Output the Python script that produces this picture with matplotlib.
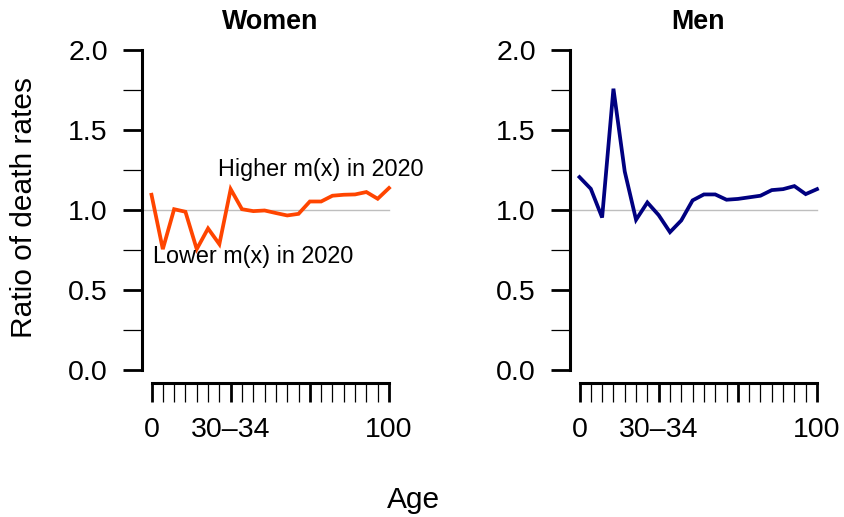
import matplotlib
matplotlib.use("Agg")
import matplotlib.pyplot as plt
import numpy as np

plt.rcParams['font.family'] = ['Liberation Sans', 'DejaVu Sans']

age_groups = ["0", "1–4", "5–9", "10–14", "15–19", "20–24", "25–29", "30–34",
              "35–39", "40–44", "45–49", "50–54", "55–59", "60–64", "65–69",
              "70–74", "75–79", "80–84", "85–89", "90–94", "95–99", "100"]
women_ratio = [1.095, 0.756, 1.005, 0.989, 0.756, 0.885, 0.787, 1.130,
               1.005, 0.993, 0.997, 0.981, 0.966, 0.976, 1.053, 1.053,
               1.089, 1.095, 1.097, 1.112, 1.070, 1.137]
men_ratio = [1.205, 1.132, 0.953, 1.756, 1.240, 0.939, 1.047, 0.968,
             0.862, 0.935, 1.060, 1.097, 1.097, 1.064, 1.069, 1.079,
             1.089, 1.124, 1.130, 1.149, 1.099, 1.130]
labelled_ticks = [0, 7, 21]
major_x = [0, 7, 14, 21]
y_major = [0.0, 0.5, 1.0, 1.5, 2.0]
y_minor = [0.25, 0.75, 1.25, 1.75]

W, H = 844, 517
fig = plt.figure(figsize=(W / 100, H / 100), dpi=100)

def fx(px):
    return px / W

def fy(py):
    return 1 - py / H

panels = [("Women", women_ratio, "#FF4500", 142),
          ("Men", men_ratio, "#000080", 570)]

n = len(age_groups)
for title, vals, col, left_px in panels:
    right_px = left_px + 256.5
    top_px, bot_px = 36.7, 383.3
    ax = fig.add_axes([fx(left_px), fy(bot_px), (right_px - left_px) / W,
                       (bot_px - top_px) / H])
    xs = np.arange(n)
    ax.set_xlim(-0.04 * (n - 1), (n - 1) * 1.04)
    ax.set_ylim(-0.08, 2.08)
    ax.plot([-0.04 * (n - 1), n - 1], [1, 1], color="#BEBEBE", lw=1.0, zorder=1)
    ax.plot(xs, vals, color=col, lw=2.7, zorder=2, solid_joinstyle='miter')
    for s in ["top", "right"]:
        ax.spines[s].set_visible(False)
    ax.spines["left"].set_bounds(0, 2)
    ax.spines["bottom"].set_bounds(0, n - 1)
    ax.spines["left"].set_linewidth(2.2)
    ax.spines["bottom"].set_linewidth(2.2)
    ax.spines["left"].set_capstyle('projecting')
    ax.spines["bottom"].set_capstyle('projecting')
    ax.set_yticks(y_major)
    ax.set_yticklabels([f"{v:.1f}" for v in y_major])
    ax.set_yticks(y_minor, minor=True)
    ax.set_xticks(major_x)
    ax.set_xticklabels(["" if i not in labelled_ticks else age_groups[i] for i in major_x])
    ax.set_xticks([i for i in xs if i not in major_x], minor=True)
    ax.tick_params(axis='both', which='major', length=13.5, width=2.0,
                   labelsize=20.5, pad=11, color='black')
    ax.tick_params(axis='both', which='minor', length=13.5, width=0.9,
                   color='black')
    fig.text(fx((left_px + right_px) / 2), fy(29), title, ha='center',
             va='baseline', fontsize=19.4, fontweight='bold')
    if title == "Women":
        ax.text(15, 1.213, "Higher m(x) in 2020", ha='center', va='baseline',
                fontsize=16.8)
        ax.text(9, 0.669, "Lower m(x) in 2020", ha='center', va='baseline',
                fontsize=16.8)

fig.text(fx(24), fy(208), "Ratio of death rates", rotation=90, ha='center',
         va='center', fontsize=21.5)
fig.text(fx(413.5), fy(508), "Age", ha='center', va='baseline', fontsize=21.5)

fig.savefig("out.png", dpi=100)
